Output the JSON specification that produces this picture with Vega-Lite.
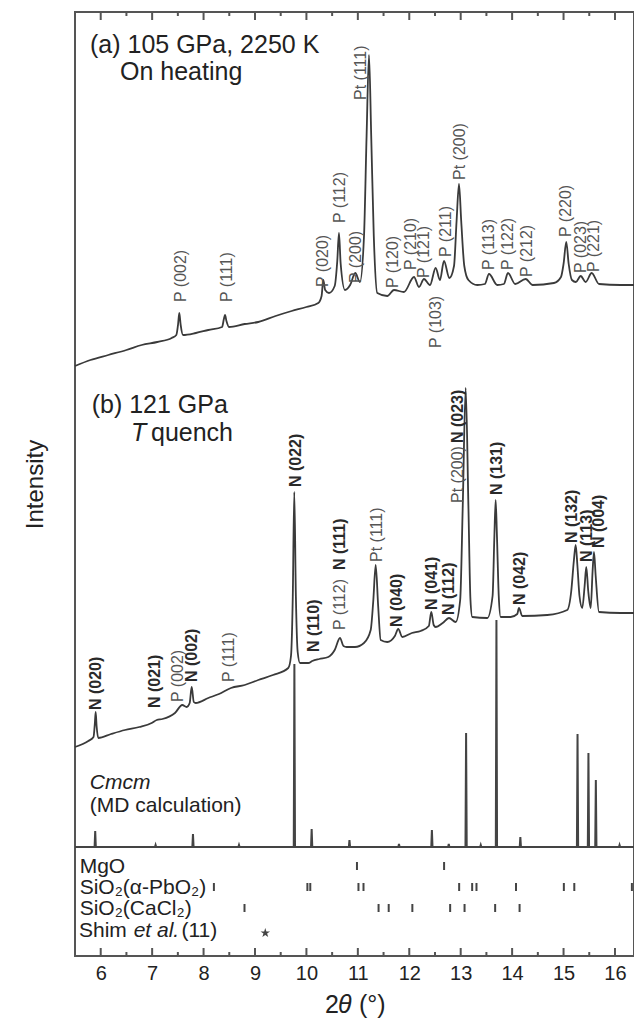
{
 "$schema": "https://vega.github.io/schema/vega-lite/v6.json",
 "width": 559, "height": 944,
 "autosize": {"type": "none"},
 "padding": {"left": 75, "top": 12, "right": 0, "bottom": 70},
 "background": "white",
 "config": {
  "view": {"stroke": "#555", "strokeWidth": 2},
  "font": "Liberation Sans",
  "axis": {"grid": false, "domain": false, "labelFont": "Liberation Sans", "titleFont": "Liberation Sans"},
  "axisY": {"labels": false, "ticks": false, "domain": false, "titleFontSize": 24, "titleFontWeight": "normal", "titlePadding": 28, "titleColor": "#222"}
 },
 "datasets": {
  "a": [{"t":5.5,"I":590},{"t":5.8,"I":596},{"t":6.147,"I":601},{"t":6.5,"I":606},{"t":6.797,"I":611},{"t":7.1,"I":614},{"t":7.38,"I":618},{"t":7.47,"I":621},{"t":7.505,"I":632},{"t":7.528,"I":643},{"t":7.555,"I":631},{"t":7.6,"I":621},{"t":7.85,"I":623},{"t":8.092,"I":626},{"t":8.36,"I":629},{"t":8.395,"I":637},{"t":8.417,"I":641},{"t":8.445,"I":635},{"t":8.494,"I":629},{"t":8.8,"I":632},{"t":9.064,"I":634},{"t":9.4,"I":640},{"t":9.713,"I":645},{"t":10.0,"I":649},{"t":10.231,"I":653},{"t":10.295,"I":660},{"t":10.328,"I":676},{"t":10.365,"I":666},{"t":10.439,"I":663},{"t":10.55,"I":670},{"t":10.6,"I":695},{"t":10.633,"I":723},{"t":10.665,"I":693},{"t":10.75,"I":666},{"t":10.85,"I":671},{"t":10.95,"I":683},{"t":11.04,"I":674},{"t":11.12,"I":720},{"t":11.17,"I":820},{"t":11.217,"I":901},{"t":11.26,"I":820},{"t":11.31,"I":720},{"t":11.378,"I":663},{"t":11.572,"I":660},{"t":11.703,"I":666},{"t":11.897,"I":664},{"t":12.092,"I":679},{"t":12.189,"I":669},{"t":12.286,"I":677},{"t":12.403,"I":671},{"t":12.513,"I":688},{"t":12.597,"I":676},{"t":12.675,"I":695},{"t":12.78,"I":678},{"t":12.87,"I":690},{"t":12.92,"I":735},{"t":12.967,"I":772},{"t":13.01,"I":735},{"t":13.07,"I":690},{"t":13.15,"I":676},{"t":13.322,"I":671},{"t":13.47,"I":672},{"t":13.55,"I":682},{"t":13.711,"I":671},{"t":13.84,"I":672},{"t":13.919,"I":683},{"t":14.06,"I":672},{"t":14.263,"I":677},{"t":14.4,"I":671},{"t":14.813,"I":673},{"t":14.95,"I":679},{"t":15.0,"I":692},{"t":15.053,"I":714},{"t":15.1,"I":692},{"t":15.163,"I":676},{"t":15.24,"I":674},{"t":15.333,"I":680},{"t":15.43,"I":674},{"t":15.547,"I":683},{"t":15.69,"I":672},{"t":16.11,"I":671},{"t":16.369,"I":671}],
  "b": [{"t":5.5,"I":209},{"t":5.759,"I":215},{"t":5.86,"I":219},{"t":5.885,"I":232},{"t":5.902,"I":244},{"t":5.92,"I":230},{"t":5.953,"I":218},{"t":6.2,"I":222},{"t":6.472,"I":226},{"t":6.75,"I":229},{"t":6.991,"I":233},{"t":7.089,"I":236},{"t":7.2,"I":237},{"t":7.444,"I":243},{"t":7.586,"I":251},{"t":7.672,"I":249},{"t":7.73,"I":253},{"t":7.769,"I":269},{"t":7.81,"I":254},{"t":7.847,"I":253},{"t":8.092,"I":258},{"t":8.3,"I":262},{"t":8.533,"I":268},{"t":8.8,"I":271},{"t":9.064,"I":276},{"t":9.35,"I":281},{"t":9.647,"I":288},{"t":9.7,"I":300},{"t":9.735,"I":360},{"t":9.764,"I":464},{"t":9.795,"I":360},{"t":9.83,"I":304},{"t":9.875,"I":293},{"t":10.036,"I":293},{"t":10.114,"I":295},{"t":10.25,"I":297},{"t":10.425,"I":299},{"t":10.55,"I":306},{"t":10.653,"I":318},{"t":10.72,"I":310},{"t":10.783,"I":309},{"t":10.944,"I":309},{"t":11.119,"I":313},{"t":11.25,"I":326},{"t":11.3,"I":355},{"t":11.347,"I":391},{"t":11.395,"I":350},{"t":11.444,"I":316},{"t":11.572,"I":314},{"t":11.72,"I":320},{"t":11.786,"I":327},{"t":11.864,"I":319},{"t":12.05,"I":323},{"t":12.222,"I":325},{"t":12.38,"I":330},{"t":12.428,"I":344},{"t":12.475,"I":331},{"t":12.513,"I":329},{"t":12.65,"I":333},{"t":12.772,"I":338},{"t":12.902,"I":334},{"t":12.99,"I":356},{"t":13.04,"I":450},{"t":13.097,"I":568},{"t":13.15,"I":450},{"t":13.19,"I":356},{"t":13.225,"I":339},{"t":13.517,"I":338},{"t":13.62,"I":360},{"t":13.655,"I":420},{"t":13.68,"I":456},{"t":13.705,"I":420},{"t":13.74,"I":360},{"t":13.777,"I":339},{"t":13.972,"I":339},{"t":14.1,"I":342},{"t":14.133,"I":348},{"t":14.197,"I":340},{"t":14.683,"I":341},{"t":15.072,"I":346},{"t":15.15,"I":365},{"t":15.2,"I":395},{"t":15.236,"I":411},{"t":15.27,"I":390},{"t":15.31,"I":360},{"t":15.364,"I":348},{"t":15.41,"I":370},{"t":15.442,"I":389},{"t":15.48,"I":365},{"t":15.528,"I":348},{"t":15.565,"I":385},{"t":15.592,"I":404},{"t":15.625,"I":380},{"t":15.689,"I":344},{"t":16.11,"I":343},{"t":16.369,"I":343}],
  "cmcm": [{"t":5.5,"I":109},{"t":5.881,"I":109},{"t":5.893,"I":125},{"t":5.905,"I":109},{"t":7.055,"I":109},{"t":7.067,"I":111},{"t":7.079,"I":109},{"t":7.782,"I":109},{"t":7.794,"I":122},{"t":7.806,"I":109},{"t":8.677,"I":109},{"t":8.689,"I":111},{"t":8.701,"I":109},{"t":9.754,"I":109},{"t":9.766,"I":292},{"t":9.778,"I":109},{"t":10.09,"I":109},{"t":10.102,"I":127},{"t":10.114,"I":109},{"t":10.825,"I":109},{"t":10.837,"I":116},{"t":10.849,"I":109},{"t":11.788,"I":109},{"t":11.8,"I":112},{"t":11.812,"I":109},{"t":12.428,"I":109},{"t":12.44,"I":126},{"t":12.452,"I":109},{"t":12.756,"I":109},{"t":12.768,"I":112},{"t":12.78,"I":109},{"t":13.093,"I":109},{"t":13.105,"I":223},{"t":13.117,"I":109},{"t":13.378,"I":109},{"t":13.39,"I":111},{"t":13.402,"I":109},{"t":13.683,"I":109},{"t":13.695,"I":336},{"t":13.707,"I":109},{"t":14.148,"I":109},{"t":14.16,"I":119},{"t":14.172,"I":109},{"t":15.26,"I":109},{"t":15.272,"I":222},{"t":15.284,"I":109},{"t":15.472,"I":109},{"t":15.484,"I":203},{"t":15.496,"I":109},{"t":15.616,"I":109},{"t":15.628,"I":176},{"t":15.64,"I":109},{"t":16.077,"I":109},{"t":16.089,"I":111},{"t":16.101,"I":109},{"t":16.369,"I":109}],
  "refs": [{"phase":"MgO","t":10.983},{"phase":"MgO","t":12.677},{"phase":"aPbO2","t":8.201},{"phase":"aPbO2","t":10.019},{"phase":"aPbO2","t":10.075},{"phase":"aPbO2","t":11.012},{"phase":"aPbO2","t":11.11},{"phase":"aPbO2","t":12.97},{"phase":"aPbO2","t":13.223},{"phase":"aPbO2","t":13.307},{"phase":"aPbO2","t":14.075},{"phase":"aPbO2","t":15.006},{"phase":"aPbO2","t":15.209},{"phase":"aPbO2","t":16.329},{"phase":"CaCl2","t":8.796},{"phase":"CaCl2","t":11.403},{"phase":"CaCl2","t":11.6},{"phase":"CaCl2","t":12.06},{"phase":"CaCl2","t":12.795},{"phase":"CaCl2","t":13.075},{"phase":"CaCl2","t":13.67},{"phase":"CaCl2","t":14.145}],
  "shim": [{"t":9.2}],
  "major": [{"t":6},{"t":7},{"t":8},{"t":9},{"t":10},{"t":11},{"t":12},{"t":13},{"t":14},{"t":15},{"t":16}],
  "minor": [{"t":6.5},{"t":7.5},{"t":8.5},{"t":9.5},{"t":10.5},{"t":11.5},{"t":12.5},{"t":13.5},{"t":14.5},{"t":15.5}],
  "labP": [{"t":7.561,"I":654,"txt":"P (002)"},{"t":8.45,"I":654,"txt":"P (111)"},{"t":10.328,"I":669,"txt":"P (020)"},{"t":10.653,"I":733,"txt":"P (112)"},{"t":10.97,"I":673,"txt":"P (200)"},{"t":11.06,"I":856,"txt":"Pt (111)"},{"t":11.689,"I":668,"txt":"P (120)"},{"t":12.027,"I":686,"txt":"P (210)"},{"t":12.286,"I":678,"txt":"P (121)"},{"t":12.513,"I":608,"txt":"P (103)"},{"t":12.708,"I":699,"txt":"P (211)"},{"t":12.986,"I":776,"txt":"Pt (200)"},{"t":13.55,"I":686,"txt":"P (113)"},{"t":13.919,"I":686,"txt":"P (122)"},{"t":14.295,"I":679,"txt":"P (212)"},{"t":15.053,"I":719,"txt":"P (220)"},{"t":15.333,"I":683,"txt":"P (023)"},{"t":15.591,"I":684,"txt":"P (221)"},{"t":7.509,"I":254,"txt":"P (002)"},{"t":8.494,"I":274,"txt":"P (111)"},{"t":10.653,"I":326,"txt":"P (112)"},{"t":11.378,"I":394,"txt":"Pt (111)"},{"t":12.95,"I":453,"txt":"Pt (200)"}],
  "labN": [{"t":5.902,"I":246,"txt":"N (020)"},{"t":7.056,"I":248,"txt":"N (021)"},{"t":7.769,"I":274,"txt":"N (002)"},{"t":9.791,"I":469,"txt":"N (022)"},{"t":10.153,"I":304,"txt":"N (110)"},{"t":10.653,"I":386,"txt":"N (111)"},{"t":11.767,"I":329,"txt":"N (040)"},{"t":12.447,"I":346,"txt":"N (041)"},{"t":12.772,"I":341,"txt":"N (112)"},{"t":12.95,"I":513,"txt":"N (023)"},{"t":13.7,"I":461,"txt":"N (131)"},{"t":14.147,"I":351,"txt":"N (042)"},{"t":15.17,"I":413,"txt":"N (132)"},{"t":15.461,"I":394,"txt":"N (113)"},{"t":15.689,"I":408,"txt":"N (004)"}],
  "tBig": [{"t":5.792,"I":911,"txt":"(a) 105 GPa, 2250 K"},{"t":6.375,"I":884,"txt":"On heating"},{"t":5.825,"I":551,"txt":"(b) 121 GPa"},{"t":6.978,"I":523,"txt":"quench"}],
  "tBigIt": [{"t":6.589,"I":523,"txt":"T"}],
  "tMed": [{"t":5.788,"I":150,"txt":"(MD calculation)"},{"t":5.591,"I":89,"txt":"MgO"},{"t":5.591,"I":68,"txt":"SiO₂(α-PbO₂)"},{"t":5.591,"I":47,"txt":"SiO₂(CaCl₂)"},{"t":5.578,"I":25,"txt":"Shim"},{"t":7.571,"I":25,"txt":"(11)"}],
  "tMedIt": [{"t":5.788,"I":173,"txt":"Cmcm"},{"t":6.64,"I":25,"txt":"et al."}],
  "xt": [{"t":10.361,"I":-49,"txt":"2"},{"t":11.022,"I":-49,"txt":"(°)"}],
  "xtIt": [{"t":10.614,"I":-49,"txt":"θ"}]
 },
 "resolve": {"axis": {"x": "independent"}},
 "layer": [
  {"data": {"name": "a"},
   "mark": {"type": "line", "color": "#3a3a3a", "strokeWidth": 1.8, "interpolate": "monotone"},
   "encoding": {
    "x": {"field": "t", "type": "quantitative", "scale": {"domain": [5.5, 16.37], "nice": false, "zero": false},
     "axis": {"orient": "bottom", "title": null, "values": [6,7,8,9,10,11,12,13,14,15,16],
      "format": "d", "ticks": false, "labelFontSize": 20, "labelColor": "#222", "labelPadding": 7}},
    "y": {"field": "I", "type": "quantitative", "scale": {"domain": [0, 944], "nice": false, "zero": false}, "title": "Intensity"}
   }},
  {"data": {"name": "b"},
   "mark": {"type": "line", "color": "#3a3a3a", "strokeWidth": 1.8, "interpolate": "monotone"},
   "encoding": {
    "x": {"field": "t", "type": "quantitative", "axis": null},
    "y": {"field": "I", "type": "quantitative", "title": "Intensity"}
   }},
  {"data": {"name": "cmcm"},
   "mark": {"type": "line", "color": "#444", "strokeWidth": 2},
   "encoding": {
    "x": {"field": "t", "type": "quantitative", "axis": null},
    "y": {"field": "I", "type": "quantitative", "title": "Intensity"}
   }},
  {"data": {"name": "major"},
   "mark": {"type": "tick", "orient": "vertical", "color": "#555", "thickness": 2, "size": 8, "opacity": 1},
   "encoding": {"x": {"field": "t", "type": "quantitative", "axis": null}, "y": {"datum": 4, "type": "quantitative", "title": "Intensity"}}},
  {"data": {"name": "major"},
   "mark": {"type": "tick", "orient": "vertical", "color": "#555", "thickness": 2, "size": 8, "opacity": 1},
   "encoding": {"x": {"field": "t", "type": "quantitative", "axis": null}, "y": {"datum": 940, "type": "quantitative", "title": "Intensity"}}},
  {"data": {"name": "minor"},
   "mark": {"type": "tick", "orient": "vertical", "color": "#555", "thickness": 2, "size": 4, "opacity": 1},
   "encoding": {"x": {"field": "t", "type": "quantitative", "axis": null}, "y": {"datum": 2, "type": "quantitative", "title": "Intensity"}}},
  {"data": {"name": "minor"},
   "mark": {"type": "tick", "orient": "vertical", "color": "#555", "thickness": 2, "size": 4, "opacity": 1},
   "encoding": {"x": {"field": "t", "type": "quantitative", "axis": null}, "y": {"datum": 942, "type": "quantitative", "title": "Intensity"}}},
  {"data": {"name": "refs"}, "transform": [{"filter": "datum.phase === 'MgO'"}],
   "mark": {"type": "tick", "orient": "vertical", "color": "#444", "thickness": 2, "size": 8, "opacity": 1},
   "encoding": {"x": {"field": "t", "type": "quantitative", "axis": null}, "y": {"datum": 90, "type": "quantitative", "title": "Intensity"}}},
  {"data": {"name": "refs"}, "transform": [{"filter": "datum.phase === 'aPbO2'"}],
   "mark": {"type": "tick", "orient": "vertical", "color": "#444", "thickness": 2, "size": 8, "opacity": 1},
   "encoding": {"x": {"field": "t", "type": "quantitative", "axis": null}, "y": {"datum": 69, "type": "quantitative", "title": "Intensity"}}},
  {"data": {"name": "refs"}, "transform": [{"filter": "datum.phase === 'CaCl2'"}],
   "mark": {"type": "tick", "orient": "vertical", "color": "#444", "thickness": 2, "size": 8, "opacity": 1},
   "encoding": {"x": {"field": "t", "type": "quantitative", "axis": null}, "y": {"datum": 48, "type": "quantitative", "title": "Intensity"}}},
  {"data": {"name": "shim"},
   "mark": {"type": "point", "shape": "M0,-1L0.2245,-0.309L0.951,-0.309L0.363,0.118L0.588,0.809L0,0.382L-0.588,0.809L-0.363,0.118L-0.951,-0.309L-0.2245,-0.309Z", "filled": true, "color": "#444", "size": 100, "opacity": 1},
   "encoding": {"x": {"field": "t", "type": "quantitative", "axis": null}, "y": {"datum": 23, "type": "quantitative", "title": "Intensity"}}},
  {"data": {"name": "labP"},
   "mark": {"type": "text", "angle": 270, "align": "left", "baseline": "middle", "fontSize": 16, "color": "#555", "font": "Liberation Sans"},
   "encoding": {"x": {"field": "t", "type": "quantitative", "axis": null}, "y": {"field": "I", "type": "quantitative", "title": "Intensity"}, "text": {"field": "txt"}}},
  {"data": {"name": "labN"},
   "mark": {"type": "text", "angle": 270, "align": "left", "baseline": "middle", "fontSize": 16, "fontWeight": "bold", "color": "#2a2a2a", "font": "Liberation Sans"},
   "encoding": {"x": {"field": "t", "type": "quantitative", "axis": null}, "y": {"field": "I", "type": "quantitative", "title": "Intensity"}, "text": {"field": "txt"}}},
  {"data": {"name": "tBig"},
   "mark": {"type": "text", "align": "left", "baseline": "middle", "fontSize": 25, "color": "#222", "font": "Liberation Sans"},
   "encoding": {"x": {"field": "t", "type": "quantitative", "axis": null}, "y": {"field": "I", "type": "quantitative", "title": "Intensity"}, "text": {"field": "txt"}}},
  {"data": {"name": "tBigIt"},
   "mark": {"type": "text", "align": "left", "baseline": "middle", "fontSize": 25, "fontStyle": "italic", "color": "#222", "font": "Liberation Sans"},
   "encoding": {"x": {"field": "t", "type": "quantitative", "axis": null}, "y": {"field": "I", "type": "quantitative", "title": "Intensity"}, "text": {"field": "txt"}}},
  {"data": {"name": "tMed"},
   "mark": {"type": "text", "align": "left", "baseline": "middle", "fontSize": 21, "color": "#222", "font": "Liberation Sans"},
   "encoding": {"x": {"field": "t", "type": "quantitative", "axis": null}, "y": {"field": "I", "type": "quantitative", "title": "Intensity"}, "text": {"field": "txt"}}},
  {"data": {"name": "tMedIt"},
   "mark": {"type": "text", "align": "left", "baseline": "middle", "fontSize": 21, "fontStyle": "italic", "color": "#222", "font": "Liberation Sans"},
   "encoding": {"x": {"field": "t", "type": "quantitative", "axis": null}, "y": {"field": "I", "type": "quantitative", "title": "Intensity"}, "text": {"field": "txt"}}},
  {"data": {"name": "xt"},
   "mark": {"type": "text", "align": "left", "baseline": "middle", "fontSize": 25, "color": "#222", "font": "Liberation Sans"},
   "encoding": {"x": {"field": "t", "type": "quantitative", "axis": null}, "y": {"field": "I", "type": "quantitative", "title": "Intensity"}, "text": {"field": "txt"}}},
  {"data": {"name": "xtIt"},
   "mark": {"type": "text", "align": "left", "baseline": "middle", "fontSize": 25, "fontStyle": "italic", "color": "#222", "font": "Liberation Sans"},
   "encoding": {"x": {"field": "t", "type": "quantitative", "axis": null}, "y": {"field": "I", "type": "quantitative", "title": "Intensity"}, "text": {"field": "txt"}}}
 ]
}
